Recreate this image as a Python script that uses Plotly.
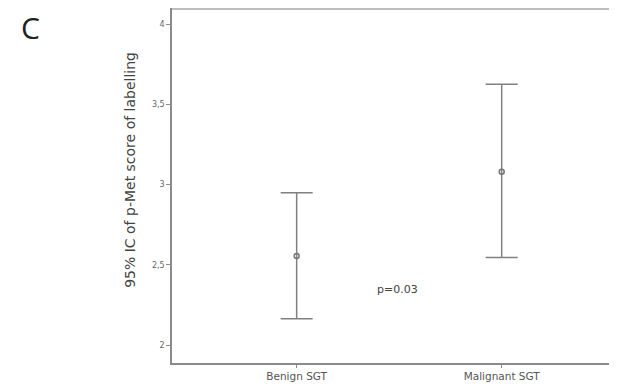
import plotly.graph_objects as go

categories = ["Benign SGT", "Malignant SGT"]
means = [2.555, 3.08]
upper = [2.949, 3.624]
lower = [2.164, 2.546]
y_tickvals = [2, 2.5, 3, 3.5, 4]
y_ticktext = ["2", "2,5", "3", "3,5", "4"]

x_pos = list(range(len(categories)))
err_plus = [u - m for u, m in zip(upper, means)]
err_minus = [m - l for m, l in zip(means, lower)]

fig = go.Figure()
fig.add_trace(go.Scatter(
    x=x_pos, y=means, mode="markers",
    marker=dict(symbol="circle-open", size=5, color="#777777", line=dict(width=1.5)),
    error_y=dict(type="data", symmetric=False, array=err_plus, arrayminus=err_minus,
                 color="#808080", thickness=1.5, width=16),
    showlegend=False, hoverinfo="skip",
))

fig.update_layout(
    width=609, height=379,
    margin=dict(l=164, r=0, t=0, b=24),
    paper_bgcolor="white", plot_bgcolor="white",
    font=dict(family="DejaVu Sans, sans-serif", color="#555555"),
    xaxis=dict(
        range=[-0.608, 1.5624], tickvals=x_pos, ticktext=categories,
        showgrid=False, zeroline=False, showline=True, linecolor="#8a8a8a", linewidth=1.5,
        ticks="outside", ticklen=3, tickcolor="#8a8a8a", tickfont=dict(size=10.5, color="#555555"),
        fixedrange=True,
    ),
    yaxis=dict(
        range=[1.888, 4.0997], tickvals=y_tickvals, ticktext=y_ticktext,
        showgrid=False, zeroline=False, showline=True, linecolor="#8a8a8a", linewidth=1.5,
        ticks="outside", ticklen=4, tickcolor="#8a8a8a", tickfont=dict(size=8, color="#666666"),
        fixedrange=True,
    ),
    shapes=[dict(type="line", xref="paper", yref="paper", x0=0, x1=1, y0=0.997, y1=0.997,
                 line=dict(color="#bdbdbd", width=2))],
    annotations=[
        dict(text="95% IC of p-Met score of labelling", xref="paper", yref="paper",
             x=-0.0944, y=0.544, xanchor="center", yanchor="middle", textangle=-90,
             showarrow=False, font=dict(size=14, color="#444444")),
        dict(text="C", xref="paper", yref="paper", x=-0.319, y=0.945,
             xanchor="center", yanchor="middle", showarrow=False,
             font=dict(family="Open Sans, sans-serif", size=30, color="#222222")),
        dict(text="p=0.03", x=0.494, y=2.343, xref="x", yref="y",
             xanchor="center", yanchor="middle", showarrow=False,
             font=dict(size=11, color="#444444")),
    ],
)

fig.write_html("out.html")
